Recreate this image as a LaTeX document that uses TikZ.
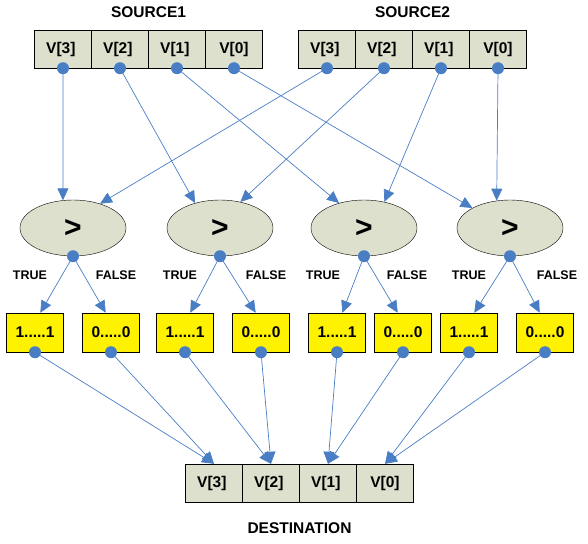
\documentclass[tikz,border=0pt]{standalone}
\usepackage{fontspec}
\setmainfont{Liberation Sans}
\usetikzlibrary{matrix, positioning, shapes.geometric, arrows.meta}
\definecolor{regfill}{RGB}{221,224,204}
\definecolor{linkblue}{RGB}{74,126,196}
\tikzset{
  reg/.style={
    matrix of nodes,
    row sep=-\pgflinewidth,
    column sep=-\pgflinewidth,
    nodes={rectangle, draw=black, fill=regfill, align=center, font=\fontsize{15.5}{17}\selectfont\bfseries},
    minimum width=57pt,
    minimum height=38pt,
    inner sep=0pt,
    nodes in empty cells,
  },
  title/.style={
    font=\fontsize{15.5}{17}\selectfont\bfseries
  },
  cmp/.style={
    ellipse, draw=black, fill=regfill, minimum width=106pt, minimum height=56pt,
    inner sep=0pt, font=\fontsize{30}{32}\selectfont\bfseries
  },
  res/.style={
    rectangle, draw=black, fill=yellow, minimum width=57pt, minimum height=39pt,
    inner sep=0pt, font=\fontsize{15.5}{17}\selectfont\bfseries
  },
  lbl/.style={
    font=\fontsize{12.5}{14}\selectfont\bfseries
  },
  dot/.style={
    circle, fill=linkblue, minimum size=12pt, inner sep=0pt
  },
  link/.style={
    draw=linkblue, line width=0.7pt, -{Triangle[length=12pt,width=11pt]}
  }
}

\begin{document}
\begin{tikzpicture}[x=1pt,y=-1pt]
  \useasboundingbox (0,0) rectangle (588,543);
  % registers
  \matrix (src1) [reg] at (148.5,49) {
    V[3] & V[2] & V[1] & V[0]\\
  };
  \matrix (src2) [reg] at (412.5,49) {
    V[3] & V[2] & V[1] & V[0]\\
  };
  \matrix (dst) [reg] at (299.5,483) {
    V[3] & V[2] & V[1] & V[0]\\
  };
  \node[title, above=8pt of src1] (src1-name) {SOURCE1};
  \node[title, above=8pt of src2] (src2-name) {SOURCE2};
  \node[title, below=17pt of dst] (dst-name) {DESTINATION};

  % comparators
  \node[cmp] (cmp1) at (73,228) {>};
  \node[cmp] (cmp2) at (220,228) {>};
  \node[cmp] (cmp3) at (364,228) {>};
  \node[cmp] (cmp4) at (510,228) {>};

  \node[lbl] (true1) at ([xshift=-43pt,yshift=-47pt]cmp1.center) {TRUE};
  \node[lbl] (false1) at ([xshift=43pt,yshift=-47pt]cmp1.center) {FALSE};
  \node[lbl] (true2) at ([xshift=-40pt,yshift=-47pt]cmp2.center) {TRUE};
  \node[lbl] (false2) at ([xshift=46pt,yshift=-47pt]cmp2.center) {FALSE};
  \node[lbl] (true3) at ([xshift=-41pt,yshift=-47pt]cmp3.center) {TRUE};
  \node[lbl] (false3) at ([xshift=43pt,yshift=-47pt]cmp3.center) {FALSE};
  \node[lbl] (true4) at ([xshift=-41pt,yshift=-47pt]cmp4.center) {TRUE};
  \node[lbl] (false4) at ([xshift=47pt,yshift=-47pt]cmp4.center) {FALSE};

  % masks
  \node[res] (res1) at (35,332.5) {1.....1};
  \node[res] (res2) at (111,332.5) {0.....0};
  \node[res] (res3) at (185,332.5) {1.....1};
  \node[res] (res4) at (261,332.5) {0.....0};
  \node[res] (res5) at (337,332.5) {1.....1};
  \node[res] (res6) at (403,332.5) {0.....0};
  \node[res] (res7) at (469,332.5) {1.....1};
  \node[res] (res8) at (545,332.5) {0.....0};

  % sources -> comparators
  \draw[link] (src1-1-1.south) -- (cmp1.110);
  \draw[link] (src2-1-1.south) -- (cmp1.42);
  \draw[link] (src1-1-2.south) -- (cmp2.135);
  \draw[link] (src2-1-2.south) -- (cmp2.52);
  \draw[link] (src1-1-3.south) -- (cmp3.135);
  \draw[link] (src2-1-3.south) -- (cmp3.52);
  \draw[link] (src1-1-4.south) -- (cmp4.152);
  \draw[link] (src2-1-4.south) -- (cmp4.116);

  % comparators -> masks
  \draw[link] (cmp1.south) -- (res1.75);
  \draw[link] (cmp1.south) -- (res2.105);
  \draw[link] (cmp2.south) -- (res3.75);
  \draw[link] (cmp2.south) -- (res4.105);
  \draw[link] (cmp3.south) -- (res5.75);
  \draw[link] (cmp3.south) -- (res6.105);
  \draw[link] (cmp4.south) -- (res7.75);
  \draw[link] (cmp4.south) -- (res8.105);

  % masks -> destination
  \draw[link] (res1.south) -- (dst-1-1.north);
  \draw[link] (res2.south) -- (dst-1-1.north);
  \draw[link] (res3.south) -- (dst-1-2.north);
  \draw[link] (res4.south) -- (dst-1-2.north);
  \draw[link] (res5.south) -- (dst-1-3.north);
  \draw[link] (res6.south) -- (dst-1-3.north);
  \draw[link] (res7.south) -- (dst-1-4.north);
  \draw[link] (res8.south) -- (dst-1-4.north);

  % dots
  \node[dot] (d-s1-3) at (src1-1-1.south) {};
  \node[dot] (d-s1-2) at (src1-1-2.south) {};
  \node[dot] (d-s1-1) at (src1-1-3.south) {};
  \node[dot] (d-s1-0) at (src1-1-4.south) {};
  \node[dot] (d-s2-3) at (src2-1-1.south) {};
  \node[dot] (d-s2-2) at (src2-1-2.south) {};
  \node[dot] (d-s2-1) at (src2-1-3.south) {};
  \node[dot] (d-s2-0) at (src2-1-4.south) {};
  \node[dot] (d-cmp1) at (cmp1.south) {};
  \node[dot] (d-cmp2) at (cmp2.south) {};
  \node[dot] (d-cmp3) at (cmp3.south) {};
  \node[dot] (d-cmp4) at (cmp4.south) {};
  \node[dot] (d-res1) at (res1.south) {};
  \node[dot] (d-res2) at (res2.south) {};
  \node[dot] (d-res3) at (res3.south) {};
  \node[dot] (d-res4) at (res4.south) {};
  \node[dot] (d-res5) at (res5.south) {};
  \node[dot] (d-res6) at (res6.south) {};
  \node[dot] (d-res7) at (res7.south) {};
  \node[dot] (d-res8) at (res8.south) {};
\end{tikzpicture}
\end{document}
